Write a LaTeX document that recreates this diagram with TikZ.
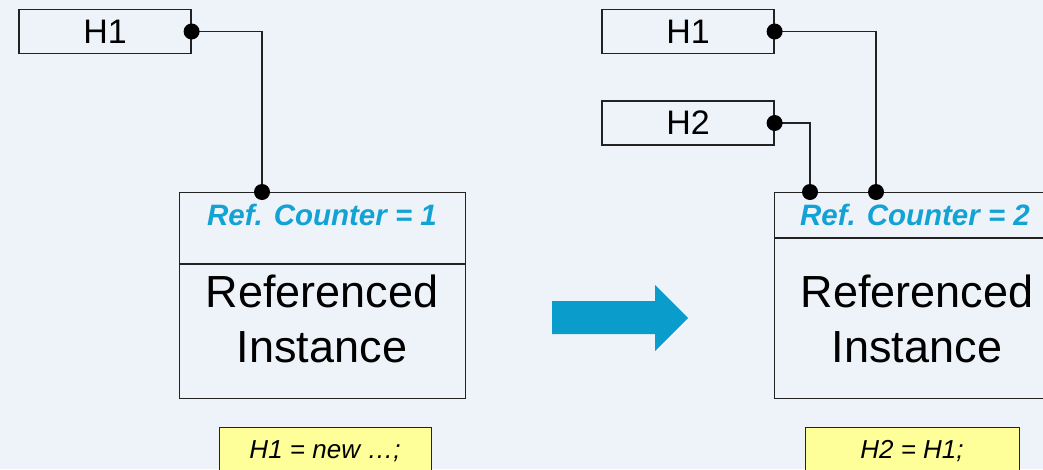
\documentclass[tikz,border=0pt]{standalone}
\usepackage{fontspec}
\setmainfont{Liberation Sans}
\definecolor{bg}{HTML}{EEF3FA}
\definecolor{refblue}{HTML}{12A2D4}
\definecolor{arrowblue}{HTML}{0A9DCB}
\definecolor{note}{HTML}{FFFF99}
\definecolor{ink}{HTML}{222222}
\begin{document}
\begin{tikzpicture}[x=1pt,y=-1pt,
  handle/.style={draw=ink,line width=1.2pt,minimum width=172pt,minimum height=44pt,
    inner sep=0pt,font=\fontsize{34}{40}\selectfont},
  instbox/.style={draw=ink,line width=1.2pt,minimum width=286pt,minimum height=206pt,inner sep=0pt},
  counter/.style={anchor=base,text=refblue,font=\fontsize{29.5}{34}\selectfont\bfseries\itshape},
  bigtext/.style={anchor=base,font=\fontsize{45}{54}\selectfont},
  notebox/.style={draw=ink,line width=1.4pt,fill=note,inner sep=0pt},
  notetext/.style={anchor=base,font=\fontsize{26}{30}\selectfont\itshape},
  link/.style={draw=ink,line width=1.2pt},
  pin/.style={fill=black}
]
\useasboundingbox (0,0) rectangle (1043,469);
\clip (0,0) rectangle (1043,469);
\fill[bg] (0,0) rectangle (1043,469);

% ---- before: one handle ----
\node[handle] (la) at (105,31.5) {H1};
\node[instbox,anchor=north west] (lobj) at (179,192) {};
\draw[link] (179,264) -- (465,264);
\node[counter] (lcnt) at (322,225) {Ref. Counter = 1};
\node[bigtext] (lref) at (322,307) {Referenced};
\node[bigtext] (linst) at (322,362) {Instance};
\node[notebox,minimum width=212pt,minimum height=60pt,anchor=north west] (lnote) at (219,427) {};
\node[notetext] (lcode) at (325,458) {H1 = new …;};

\coordinate (la-pin) at (la.east);
\coordinate (lobj-pin) at (262,192);
\draw[link] (la-pin) -| (lobj-pin);
\fill[pin] (la-pin) circle (8pt) (lobj-pin) circle (8pt);

% ---- transition arrow ----
\fill[arrowblue] (552,301) -- (655,301) -- (655,285) -- (688,318) -- (655,351)
  -- (655,334) -- (552,334) -- cycle;

% ---- after: two handles ----
\node[handle] (ra) at (688,31.5) {H1};
\node[handle] (rb) at (688,123) {H2};
\node[instbox,anchor=north west] (robj) at (774,192) {};
\draw[link] (774,238) -- (1060,238);
\node[counter] (rcnt) at (915,225) {Ref. Counter = 2};
\node[bigtext] (rref) at (917,307) {Referenced};
\node[bigtext] (rinst) at (917,362) {Instance};
\node[notebox,minimum width=214pt,minimum height=60pt,anchor=north west] (rnote) at (805,427) {};
\node[notetext] (rcode) at (912,458) {H2 = H1;};

\coordinate (ra-pin) at (ra.east);
\coordinate (rb-pin) at (rb.east);
\coordinate (robj-pin1) at (876,192);
\coordinate (robj-pin2) at (810,192);
\draw[link] (ra-pin) -| (robj-pin1);
\draw[link] (rb-pin) -| (robj-pin2);
\fill[pin] (ra-pin) circle (8pt) (rb-pin) circle (8pt)
  (robj-pin1) circle (8pt) (robj-pin2) circle (8pt);
\end{tikzpicture}
\end{document}
